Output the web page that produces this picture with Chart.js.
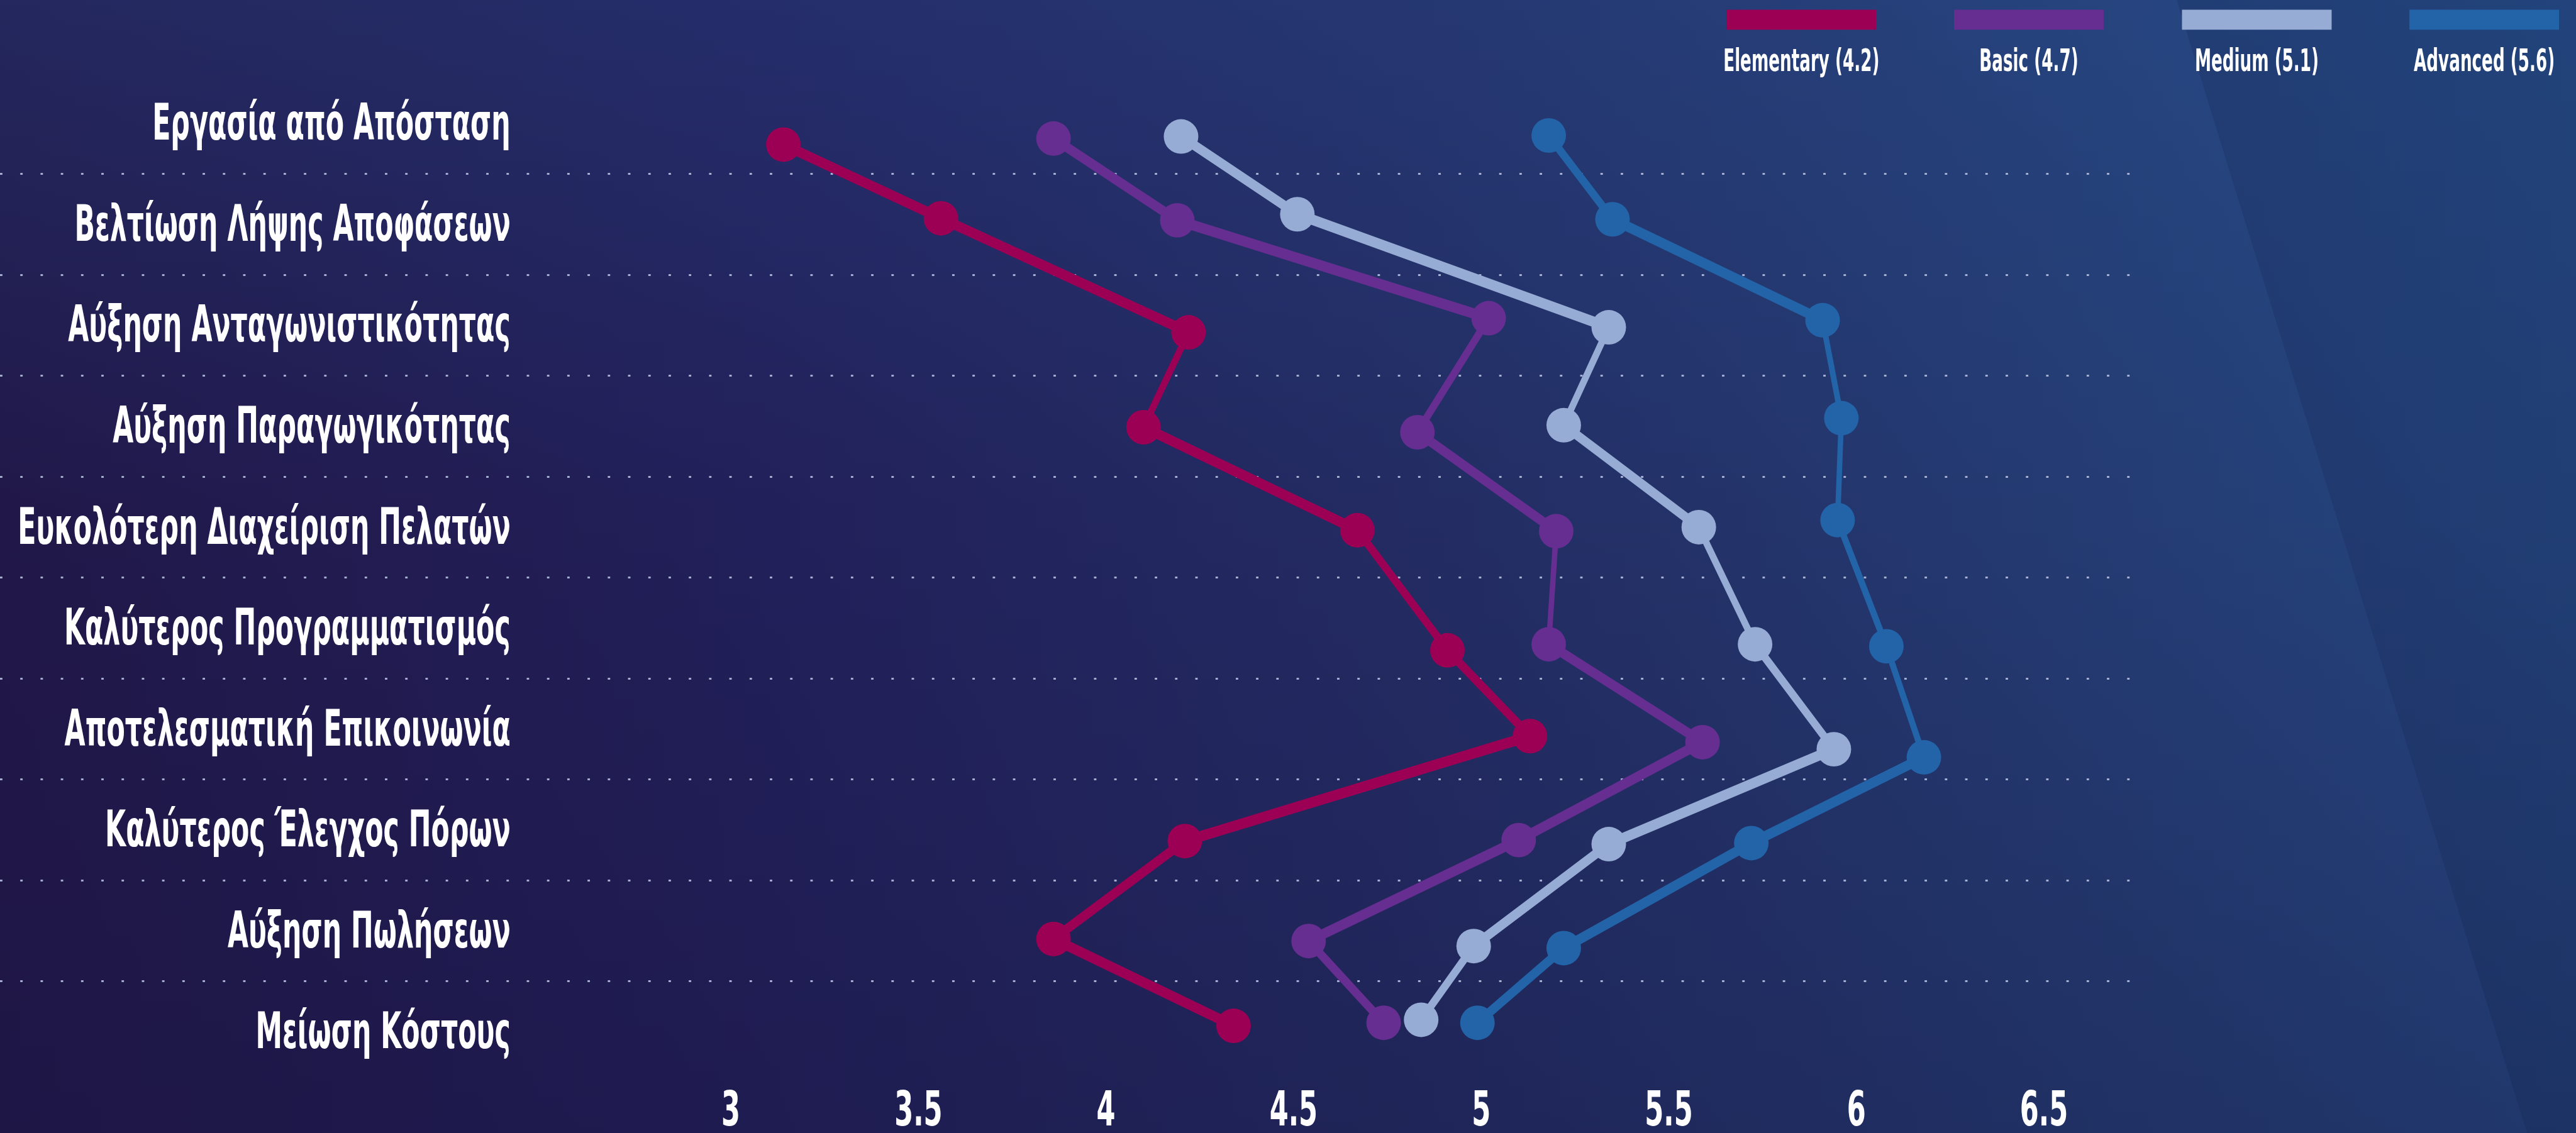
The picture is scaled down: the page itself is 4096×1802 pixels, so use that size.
<!DOCTYPE html>
<html>
<head>
<meta charset="utf-8">
<script src="https://cdn.jsdelivr.net/npm/chart.js@4/dist/chart.umd.min.js"></script>
<style>
  html, body { margin: 0; padding: 0; }
  #wrap {
    position: relative;
    width: 4096px; height: 1802px; overflow: hidden;
    background: linear-gradient(90deg, #211849 0%, #22205a 30%, #232c63 55%, #243b72 80%, #25467f 100%);
  }
  #shade {
    position: absolute; inset: 0;
    background: linear-gradient(180deg, rgba(45,95,165,0.22) 0%, rgba(0,0,0,0) 45%, rgba(20,15,55,0.25) 100%);
  }
  #wedge {
    position: absolute; inset: 0;
    background: rgba(15,25,60,0.16);
    clip-path: polygon(84.5% 0, 98.1% 100%, 100% 100%, 100% 0);
  }
  canvas { position: absolute; left: 0; top: 0; }
</style>
</head>
<body>
<div id="wrap">
  <div id="shade"></div>
  <div id="wedge"></div>
  <canvas id="chart" width="4096" height="1802"></canvas>
</div>
<script>
/* ================================================
   DATA
================================================ */
const categories = [
  'Εργασία από Απόσταση',
  'Βελτίωση Λήψης Αποφάσεων',
  'Αύξηση Ανταγωνιστικότητας',
  'Αύξηση Παραγωγικότητας',
  'Ευκολότερη Διαχείριση Πελατών',
  'Καλύτερος Προγραμματισμός',
  'Αποτελεσματική Επικοινωνία',
  'Καλύτερος Έλεγχος Πόρων',
  'Αύξηση Πωλήσεων',
  'Μείωση Κόστους',
];

const seriesNames = ['Elementary (4.2)', 'Basic (4.7)', 'Medium (5.1)', 'Advanced (5.6)'];

const elementary = [3.14, 3.56, 4.22, 4.10, 4.67, 4.91, 5.13, 4.21, 3.86, 4.34];
const basic      = [3.86, 4.19, 5.02, 4.83, 5.20, 5.18, 5.59, 5.10, 4.54, 4.74];
const medium     = [4.20, 4.51, 5.34, 5.22, 5.58, 5.73, 5.94, 5.34, 4.98, 4.84];
const advanced   = [5.18, 5.35, 5.91, 5.96, 5.95, 6.08, 6.18, 5.72, 5.22, 4.99];

// vertical position of each marker, in rows (0 = top row); the markers sit a little off the row centres
const elementaryRow = [0.21, 0.94, 2.07, 3.01, 4.03, 5.22, 6.07, 7.11, 8.08, 8.94];
const basicRow      = [0.15, 0.96, 1.93, 3.06, 4.04, 5.16, 6.13, 7.10, 8.10, 8.91];
const mediumRow     = [0.13, 0.90, 2.02, 2.99, 4.00, 5.16, 6.20, 7.14, 8.15, 8.88];
const advancedRow   = [0.12, 0.95, 1.95, 2.92, 3.93, 5.18, 6.28, 7.13, 8.17, 8.91];

const xTicks = [3, 3.5, 4, 4.5, 5, 5.5, 6, 6.5];

/* ================================================
   STYLE
================================================ */
const S = 0.859;
const FONT = "'DejaVu Sans Condensed', 'DejaVu Sans', sans-serif";
const COLORS = ['#9c0055', '#662e91', '#97acd4', '#2364a8'];
const LINE_W = 20 * S;   // stroke on flat segments
const LINE_K = 0.5;      // steep segments come out thinner

function segWidth(ctx) {
  const dx = ctx.p1.x - ctx.p0.x;
  const dy = ctx.p1.y - ctx.p0.y;
  const len = Math.hypot(dx, dy) || 1;
  return LINE_W * Math.sqrt(dx * dx + LINE_K * LINE_K * dy * dy) / len;
}

function makeSeries(label, values, rows, color) {
  return {
    label,
    data: values.map((v, i) => ({ x: v, y: rows[i] })),
    xAxisID: 'x',
    yAxisID: 'yv',
    borderColor: color,
    backgroundColor: color,
    borderWidth: LINE_W,
    borderJoinStyle: 'round',
    borderCapStyle: 'round',
    pointRadius: 32 * S,
    pointHoverRadius: 32 * S,
    pointBorderWidth: 0,
    pointBackgroundColor: color,
    tension: 0,
    segment: { borderWidth: segWidth },
  };
}

// draw text squeezed horizontally around (x, y)
function squeezedText(ctx, text, x, y, sx) {
  ctx.save();
  ctx.translate(x, y);
  ctx.scale(sx, 1);
  ctx.fillText(text, 0, 0);
  ctx.restore();
}

/* ================================================
   PLUGINS
================================================ */
// row labels, condensed to the width of the reference face
const rowLabels = {
  id: 'rowLabels',
  beforeDatasetsDraw(chart) {
    const ctx = chart.ctx;
    const sc = chart.scales.y;
    ctx.save();
    ctx.font = `bold ${94 * S}px ${FONT}`;
    const widest = Math.max(...categories.map(c => ctx.measureText(c).width));
    const sx = Math.min(1, (912 * S) / widest);
    ctx.fillStyle = '#ffffff';
    ctx.textAlign = 'right';
    ctx.textBaseline = 'middle';
    categories.forEach((c, i) => squeezedText(ctx, c, 945 * S, sc.getPixelForTick(i) + 6 * S, sx));
    ctx.restore();
  },
};

// value labels under the plot, placed by the x scale
const valueLabels = {
  id: 'valueLabels',
  afterDraw(chart) {
    const ctx = chart.ctx;
    const sc = chart.scales.x;
    ctx.save();
    ctx.font = `bold ${90 * S}px ${FONT}`;
    const sx = Math.min(1, (89 * S) / ctx.measureText('3.5').width);
    ctx.fillStyle = '#ffffff';
    ctx.textAlign = 'center';
    ctx.textBaseline = 'middle';
    xTicks.forEach(v => squeezedText(ctx, String(v), sc.getPixelForValue(v), 2060 * S, sx));
    ctx.restore();
  },
};

// legend: swatch on top, name centred below
const topLegend = {
  id: 'topLegend',
  afterDraw(chart) {
    const ctx = chart.ctx;
    const boxX = [3196, 3617, 4039, 4460];
    const boxW = 277, boxTop = 18, boxH = 37, textY = 116;
    ctx.save();
    ctx.font = `bold ${58 * S}px ${FONT}`;
    const sx = Math.min(1, (289 * S) / ctx.measureText(seriesNames[0]).width);
    ctx.textAlign = 'center';
    ctx.textBaseline = 'middle';
    chart.data.datasets.forEach((ds, i) => {
      ctx.fillStyle = ds.borderColor;
      ctx.fillRect(boxX[i] * S, boxTop * S, boxW * S, boxH * S);
      ctx.fillStyle = '#ffffff';
      squeezedText(ctx, ds.label, (boxX[i] + boxW / 2) * S, textY * S, sx);
    });
    ctx.restore();
  },
};

/* ================================================
   CHART
================================================ */
const datasets = [
  makeSeries(seriesNames[0], elementary, elementaryRow, COLORS[0]),
  makeSeries(seriesNames[1], basic,      basicRow,      COLORS[1]),
  makeSeries(seriesNames[2], medium,     mediumRow,     COLORS[2]),
  makeSeries(seriesNames[3], advanced,   advancedRow,   COLORS[3]),
];

const DOT = 'rgba(180,190,222,0.9)';

new Chart(document.getElementById('chart'), {
  type: 'line',
  data: { labels: categories, datasets },
  plugins: [rowLabels, valueLabels, topLegend],
  options: {
    responsive: false,
    animation: false,
    devicePixelRatio: 1,
    layout: {
      autoPadding: false,
      padding: { top: 135 * S, right: 4096 - 3955 * S, bottom: 1802 - 2004 * S, left: 0 },
    },
    plugins: { legend: { display: false }, tooltip: { enabled: false } },
    scales: {
      x: {
        type: 'linear',
        position: 'bottom',
        min: 1.052,
        max: 6.747,
        afterBuildTicks: axis => { axis.ticks = xTicks.map(v => ({ value: v })); },
        grid: { display: false, drawTicks: false },
        border: { display: false },
        ticks: { display: false },
      },
      y: {
        type: 'category',
        position: 'left',
        labels: categories,
        offset: true,
        border: { display: false, dash: [4.5 * S, 33 * S] },
        ticks: { display: false },
        grid: {
          offset: true,
          drawTicks: false,
          lineWidth: 3.5 * S,
          color: c => (c.tick && c.index > 0) ? DOT : 'rgba(0,0,0,0)',
        },
      },
      yv: {
        type: 'linear',
        display: false,
        reverse: true,
        min: -0.5,
        max: 9.5,
      },
    },
  },
});
</script>
</body>
</html>
